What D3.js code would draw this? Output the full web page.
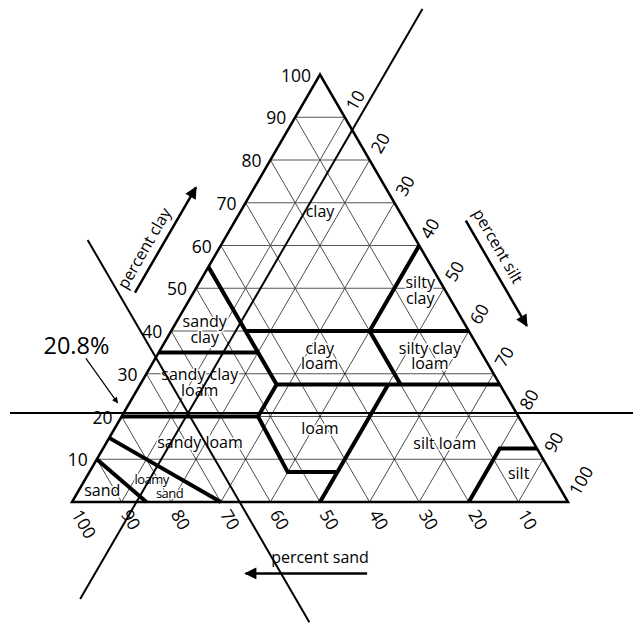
<!DOCTYPE html>
<html>
<head>
<meta charset="utf-8">
<script src="https://cdn.jsdelivr.net/npm/d3@7"></script>
<style>
  body { margin: 0; background: #fff; }
  svg { display: block; font-family: "Open Sans", sans-serif; }
</style>
</head>
<body>
<div id="chart"></div>
<script>
// tick labels on the three sides
const clayTicks = [10, 20, 30, 40, 50, 60, 70, 80, 90, 100];
const siltTicks = [10, 20, 30, 40, 50, 60, 70, 80, 90, 100];
const sandTicks = [100, 90, 80, 70, 60, 50, 40, 30, 20, 10];
const gridSteps = [10, 20, 30, 40, 50, 60, 70, 80, 90];

// texture class boundaries, points as [sand, silt, clay]
const boundaries = [
  [[45, 0, 55], [45, 15, 40], [45, 20, 35], [45, 27.5, 27.5], [52.5, 27.5, 20], [53, 40, 7], [43, 50, 7]],
  [[80, 0, 20], [52.5, 27.5, 20]],
  [[65, 0, 35], [45, 20, 35]],
  [[45, 15, 40], [0, 60, 40]],
  [[45, 27.5, 27.5], [0, 72.5, 27.5]],
  [[0, 40, 60], [20, 40, 40], [20, 52.5, 27.5]],
  [[22.5, 50, 27.5], [50, 50, 0]],
  [[20, 80, 0], [7.5, 80, 12.5], [0, 87.5, 12.5]],
  [[85, 0, 15], [70, 30, 0]],
  [[90, 0, 10], [85, 15, 0]],
];

// class names and where they sit (sand, silt, clay)
const classLabels = [
  { lines: ["clay"], at: [16, 16, 68] },
  { lines: ["silty", "clay"], at: [5, 45.4, 49.6] },
  { lines: ["sandy", "clay"], at: [53, 6.5, 40.5] },
  { lines: ["clay", "loam"], at: [32.9, 32.8, 34.3] },
  { lines: ["silty clay", "loam"], at: [10.7, 55, 34.3] },
  { lines: ["sandy clay", "loam"], at: [60.2, 11.7, 28.1] },
  { lines: ["loam"], at: [41.4, 41.4, 17.2] },
  { lines: ["silt loam"], at: [17.9, 68.2, 13.9] },
  { lines: ["sandy loam"], at: [67.2, 18.8, 14] },
  { lines: ["sand"], at: [92.5, 4.7, 2.8] },
  { lines: ["silt"], at: [6.6, 86.7, 6.7] },
];
const loamySand = { lines: ["loamy", "sand"], at: [81.3, 13.4, 5.3], shift: [0, 18] };

// the worked example
const sample = { sand: 66.2, silt: 13, clay: 20.8 };
const sampleLabel = "20.8%";

const width = 633;
const height = 625;

const xScale = d3.scaleLinear().domain([0, 100]).range([72, 568]);
const yScale = d3.scaleLinear().domain([0, 100]).range([502, 74.5]);

// [sand, silt, clay] -> pixel
const pt = ([s, t, c]) => [xScale(t + c / 2), yScale(c)];

const svg = d3
  .select("#chart")
  .append("svg")
  .attr("width", width)
  .attr("height", height);

const defs = svg.append("defs");
defs
  .append("marker")
  .attr("id", "head")
  .attr("viewBox", "0 0 10 10")
  .attr("refX", 9)
  .attr("refY", 5)
  .attr("markerUnits", "userSpaceOnUse")
  .attr("markerWidth", 17)
  .attr("markerHeight", 12)
  .attr("orient", "auto")
  .append("path")
  .attr("d", "M0,0L10,5L0,10z")
  .attr("fill", "#000");
defs
  .append("marker")
  .attr("id", "smallHead")
  .attr("viewBox", "0 0 10 10")
  .attr("refX", 9)
  .attr("refY", 5)
  .attr("markerUnits", "userSpaceOnUse")
  .attr("markerWidth", 8)
  .attr("markerHeight", 6)
  .attr("orient", "auto")
  .append("path")
  .attr("d", "M0,0L10,5L0,10z")
  .attr("fill", "#000");

const line = d3.line();

// grid
const grid = svg.append("g");
gridSteps.forEach((g) => {
  grid
    .append("path")
    .attr("d", line([pt([100 - g, 0, g]), pt([0, 100 - g, g])]))
    .attr("stroke", "#555")
    .attr("stroke-width", 1);
  grid
    .append("path")
    .attr("d", line([pt([100 - g, g, 0]), pt([0, g, 100 - g])]))
    .attr("stroke", "#000")
    .attr("stroke-width", 0.7);
  grid
    .append("path")
    .attr("d", line([pt([g, 100 - g, 0]), pt([g, 0, 100 - g])]))
    .attr("stroke", "#000")
    .attr("stroke-width", 0.7);
});

// class labels, white halo hides the grid behind them
const labels = svg.append("g").attr("font-size", 16).attr("text-anchor", "middle");
classLabels.forEach((d) => {
  const [x, y] = pt(d.at);
  const n = d.lines.length;
  const text = labels
    .append("text")
    .attr("x", x)
    .attr("y", y - ((n - 1) / 2) * 15.5)
    .attr("dominant-baseline", "central")
    .attr("stroke", "#fff")
    .attr("stroke-width", 3)
    .attr("paint-order", "stroke");
  d.lines.forEach((txt, i) => {
    text
      .append("tspan")
      .attr("x", x)
      .attr("dy", i === 0 ? 0 : 15.5)
      .text(txt);
  });
});
{
  const [x, y] = pt(loamySand.at);
  const text = labels
    .append("text")
    .attr("x", x)
    .attr("y", y)
    .attr("font-size", 13)
    .attr("letter-spacing", -0.5)
    .attr("dominant-baseline", "central")
    .attr("stroke", "#fff")
    .attr("stroke-width", 2.5)
    .attr("paint-order", "stroke");
  loamySand.lines.forEach((txt, i) => {
    text
      .append("tspan")
      .attr("x", x + loamySand.shift[i])
      .attr("dy", i === 0 ? 0 : 14)
      .text(txt);
  });
}

// class boundaries
svg
  .append("g")
  .selectAll("path")
  .data(boundaries)
  .join("path")
  .attr("d", (d) => line(d.map(pt)))
  .attr("fill", "none")
  .attr("stroke", "#000")
  .attr("stroke-width", 4)
  .attr("stroke-linejoin", "miter");

// triangle outline
svg
  .append("path")
  .attr("d", line([pt([100, 0, 0]), pt([0, 100, 0]), pt([0, 0, 100])]) + "Z")
  .attr("fill", "none")
  .attr("stroke", "#000")
  .attr("stroke-width", 2.5);

// sample lines through the example point
const ref = svg.append("g").attr("stroke", "#000").attr("stroke-width", 2).attr("fill", "none");
ref
  .append("path")
  .attr("d", line([
    [xScale(-12.5), yScale(sample.clay)],
    [xScale(114), yScale(sample.clay)],
  ]));
ref
  .append("path")
  .attr("d", line([
    pt([100 - sample.silt + 22.7, sample.silt, -22.7]),
    pt([100 - sample.silt - 115.3, sample.silt, 115.3]),
  ]));
ref
  .append("path")
  .attr("d", line([
    pt([sample.sand, 100 - sample.sand - 61.3, 61.3]),
    pt([sample.sand, 100 - sample.sand + 28.1, -28.1]),
  ]));

// tick labels
const ticks = svg.append("g").attr("font-size", 17.5);
clayTicks.forEach((c) => {
  const [x, y] = pt([100 - c, 0, c]);
  ticks
    .append("text")
    .attr("x", x - 9)
    .attr("y", y)
    .attr("text-anchor", "end")
    .attr("dominant-baseline", "central")
    .text(c);
});
const cos60 = 0.5;
const sin60 = Math.sqrt(3) / 2;
siltTicks.forEach((t) => {
  const [x, y] = pt([0, t, 100 - t]);
  ticks
    .append("text")
    .attr("transform", `translate(${x + 10 * cos60},${y - 10 * sin60}) rotate(-60)`)
    .attr("text-anchor", "start")
    .attr("dominant-baseline", "central")
    .text(t);
});
sandTicks.forEach((s) => {
  const [x, y] = pt([s, 100 - s, 0]);
  ticks
    .append("text")
    .attr("transform", `translate(${x + 10 * cos60},${y + 10 * sin60}) rotate(60)`)
    .attr("text-anchor", "start")
    .attr("dominant-baseline", "central")
    .text(s);
});

// axis titles with arrows
const titles = svg.append("g").attr("font-size", 16).attr("text-anchor", "middle");
const arrow = (a, b, head) =>
  svg
    .append("path")
    .attr("d", line([pt(a), pt(b)]))
    .attr("stroke", "#000")
    .attr("stroke-width", head === "head" ? 2.5 : 1.2)
    .attr("marker-end", `url(#${head})`);

// percent clay: along silt = -11.8
arrow([100 + 11.8 - 49, -11.8, 49], [100 + 11.8 - 73.6, -11.8, 73.6], "head");
let [tx, ty] = pt([100 + 15.2 - 59.4, -15.2, 59.4]);
titles
  .append("text")
  .attr("transform", `translate(${tx},${ty}) rotate(-60)`)
  .attr("dominant-baseline", "central")
  .text("percent clay");

// percent silt: along sand = -12.3
arrow([-12.3, 100 + 12.3 - 65.8, 65.8], [-12.3, 100 + 12.3 - 41.2, 41.2], "head");
[tx, ty] = pt([-15.9, 100 + 15.9 - 59.9, 59.9]);
titles
  .append("text")
  .attr("transform", `translate(${tx},${ty}) rotate(60)`)
  .attr("dominant-baseline", "central")
  .text("percent silt");

// percent sand: below the base
svg
  .append("path")
  .attr("d", line([
    [xScale(59.5), yScale(-16.7)],
    [xScale(35), yScale(-16.7)],
  ]))
  .attr("stroke", "#000")
  .attr("stroke-width", 2.5)
  .attr("marker-end", "url(#head)");
titles
  .append("text")
  .attr("x", xScale(50))
  .attr("y", yScale(-12.9))
  .attr("dominant-baseline", "central")
  .text("percent sand");

// sample annotation
svg
  .append("path")
  .attr("d", line([
    [xScale(2.8), yScale(33.6)],
    [xScale(9.2), yScale(23.2)],
  ]))
  .attr("stroke", "#000")
  .attr("stroke-width", 1.2)
  .attr("marker-end", "url(#smallHead)");
svg
  .append("text")
  .attr("x", xScale(0.9))
  .attr("y", yScale(36.7))
  .attr("text-anchor", "middle")
  .attr("dominant-baseline", "central")
  .attr("font-size", 23.5)
  .text(sampleLabel);
</script>
</body>
</html>
